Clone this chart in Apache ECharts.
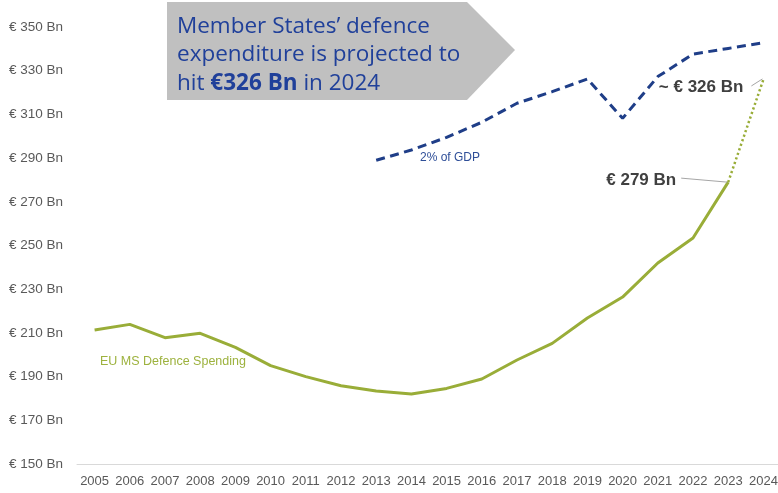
<!DOCTYPE html>
<html>
<head>
<meta charset="utf-8">
<script src="https://cdn.jsdelivr.net/npm/echarts@6/dist/echarts.min.js"></script>
<style>
  html, body { margin: 0; padding: 0; background: #ffffff; overflow: hidden; }
  #chart { width: 781px; height: 493px; }
</style>
</head>
<body>
<div id="chart"></div>
<script>
// Years on the category axis
const years = ['2005', '2006', '2007', '2008', '2009', '2010', '2011', '2012', '2013', '2014',
               '2015', '2016', '2017', '2018', '2019', '2020', '2021', '2022', '2023', '2024'];

// EU member states' defence spending, € Bn (actuals up to 2023)
const spending = [211.3, 213.9, 207.8, 209.8, 203.4, 195.0, 190.0, 185.8, 183.4, 182.0,
                  184.6, 188.9, 197.6, 205.2, 216.8, 226.4, 242.0, 253.4, 279, null];

// Projection from the last actual year to 2024, € Bn
const projection = [null, null, null, null, null, null, null, null, null, null,
                    null, null, null, null, null, null, null, null, 279, 326];

// Spending level equal to 2% of GDP, € Bn
const gdpTwoPercent = [null, null, null, null, null, null, null, null, 289, 293.7,
                       299.5, 306.4, 315.1, 320.4, 326.2, 308.2, 327.3, 337.6, 340.2, 342.8];

// Value axis settings (€ Bn)
const yMin = 150, yMax = 350, yStep = 20;

const GREEN = '#99AD38';
const NAVY = '#1F3E88';
const FONT = '"Liberation Sans", Arial, sans-serif';
const HEAD_FONT = '"Open Sans", "Liberation Sans", sans-serif';

const chart = echarts.init(document.getElementById('chart'), null, { renderer: 'canvas' });

chart.setOption({
  animation: false,
  backgroundColor: '#ffffff',
  grid: { left: 77, top: 27, width: 704, height: 437, containLabel: false },
  xAxis: {
    type: 'category',
    data: years,
    boundaryGap: true,
    axisTick: { show: false },
    axisLine: { lineStyle: { color: '#d9d9d9', width: 1 } },
    axisLabel: { color: '#595959', fontSize: 13, fontFamily: FONT, margin: 11, interval: 0 }
  },
  yAxis: {
    type: 'value',
    min: yMin,
    max: yMax,
    interval: yStep,
    axisLine: { show: false },
    axisTick: { show: false },
    splitLine: { show: false },
    axisLabel: {
      color: '#595959', fontSize: 13.5, fontFamily: FONT, margin: 14,
      formatter: v => '€ ' + v + ' Bn'
    }
  },
  series: [
    {
      name: '2% of GDP',
      type: 'line',
      data: gdpTwoPercent,
      symbol: 'none',
      lineStyle: { color: NAVY, width: 3, type: [9, 5.5] },
      z: 3
    },
    {
      name: 'EU MS Defence Spending',
      type: 'line',
      data: spending,
      symbol: 'none',
      lineStyle: { color: GREEN, width: 3 },
      z: 4
    },
    {
      name: 'Projection',
      type: 'line',
      data: projection,
      symbol: 'none',
      lineStyle: { color: GREEN, width: 2.5, type: [2.2, 2.6] },
      z: 4
    }
  ]
});

// Annotations anchored to the last actual point and the projected point
const lastIdx = spending.length - 2;
const lastVal = spending[lastIdx];
const projVal = projection[projection.length - 1];
const pLast = chart.convertToPixel({ gridIndex: 0 }, [years[lastIdx], lastVal]);
const pProj = chart.convertToPixel({ gridIndex: 0 }, [years[years.length - 1], projVal]);

chart.setOption({
  graphic: [
    // Headline callout arrow
    {
      type: 'polygon',
      shape: { points: [[167, 2], [467, 2], [515, 50], [467, 100], [167, 100]] },
      style: { fill: '#c0c0c0' },
      z: 10
    },
    {
      type: 'text',
      left: 177,
      top: 15,
      z: 11,
      style: {
        text: '{n|Member States’ defence}\n{n|expenditure is projected to}\n{n|hit }{b|€' + projVal + ' Bn}{n| in 2024}',
        rich: {
          n: { fontSize: 22.5, fontFamily: HEAD_FONT, fill: '#20409A', lineHeight: 28.5 },
          b: { fontSize: 22.5, fontFamily: HEAD_FONT, fontWeight: 'bold', fill: '#20409A', lineHeight: 28.5 }
        }
      }
    },
    // Series names
    {
      type: 'text',
      left: 420, top: 152, z: 11,
      style: { text: '2% of GDP', fontSize: 12, fontFamily: FONT, fill: '#2E4E98' }
    },
    {
      type: 'text',
      left: 100, top: 355, z: 11,
      style: { text: 'EU MS Defence Spending', fontSize: 12.5, fontFamily: FONT, fill: '#9DB23E' }
    },
    // Last actual value label with leader line
    {
      type: 'line',
      shape: { x1: pLast[0] - 47, y1: pLast[1] - 4, x2: pLast[0] - 1, y2: pLast[1] },
      style: { stroke: '#a6a6a6', lineWidth: 1 },
      z: 9
    },
    {
      type: 'text',
      x: pLast[0] - 52, y: pLast[1] - 2, z: 11,
      style: {
        text: '€ ' + lastVal + ' Bn', fontSize: 17, fontWeight: 'bold', fontFamily: FONT,
        fill: '#404040', align: 'right', verticalAlign: 'middle'
      }
    },
    // Projected value label with leader line
    {
      type: 'line',
      shape: { x1: pProj[0] - 12, y1: pProj[1] + 6.5, x2: pProj[0] - 1, y2: pProj[1] - 0.5 },
      style: { stroke: '#a6a6a6', lineWidth: 1 },
      z: 9
    },
    {
      type: 'text',
      x: pProj[0] - 20, y: pProj[1] + 8, z: 11,
      style: {
        text: '~ € ' + projVal + ' Bn', fontSize: 17, fontWeight: 'bold', fontFamily: FONT,
        fill: '#404040', align: 'right', verticalAlign: 'middle'
      }
    }
  ]
});
</script>
</body>
</html>
